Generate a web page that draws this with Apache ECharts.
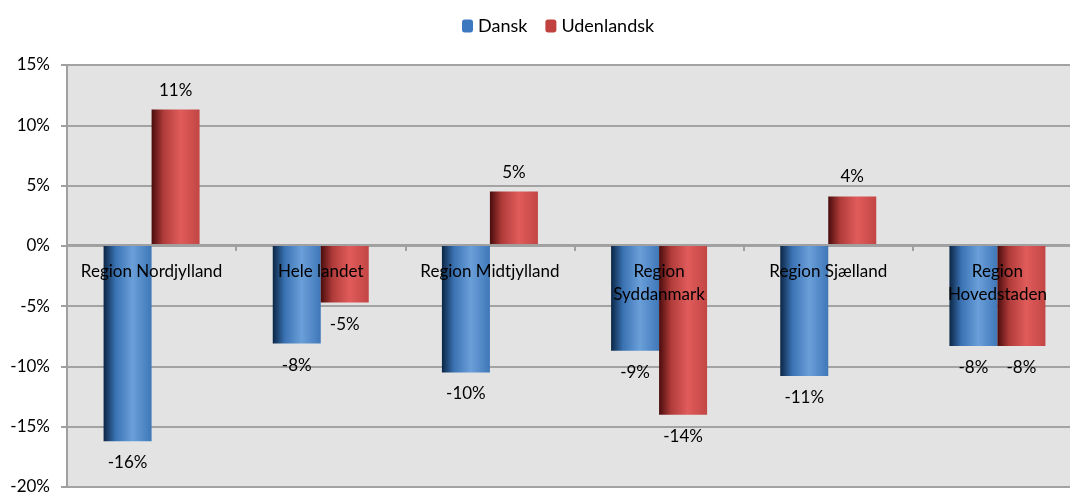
<!DOCTYPE html>
<html>
<head>
<meta charset="utf-8">
<script src="https://cdn.jsdelivr.net/npm/echarts@6/dist/echarts.min.js"></script>
<style>
  html, body { margin: 0; padding: 0; background: #fff; }
  #chart { width: 1070px; height: 492px; }
</style>
</head>
<body>
<div id="chart"></div>
<script>
// regioner og ændring i procent
var regions = ['Region Nordjylland', 'Hele landet', 'Region Midtjylland', 'Region\nSyddanmark', 'Region Sjælland', 'Region\nHovedstaden'];
var dansk = [-16.2, -8.1, -10.5, -8.7, -10.8, -8.3];
var udenlandsk = [11.3, -4.7, 4.5, -14.0, 4.1, -8.3];
var yTicks = { min: -20, max: 15, step: 5 };

var font = 'Lato';
var fs = 17;

function barGrad(c0, c1, c2, c3) {
  return new echarts.graphic.LinearGradient(0, 0, 1, 0, [
    { offset: 0, color: c0 },
    { offset: 0.25, color: c1 },
    { offset: 0.6, color: c2 },
    { offset: 1, color: c3 }
  ]);
}

var myChart = echarts.init(document.getElementById('chart'));
var option = {
  animation: false,
  textStyle: { fontFamily: font },
  legend: {
    top: 12,
    left: 457,
    itemWidth: 11,
    itemHeight: 13,
    itemGap: 18,
    textStyle: { fontSize: 18, color: '#000', fontFamily: font },
    data: [
      { name: 'Dansk', itemStyle: { color: '#3b78c0' } },
      { name: 'Udenlandsk', itemStyle: { color: '#c0413e' } }
    ]
  },
  grid: {
    left: 67, right: -12, top: 65, bottom: 5,
    outerBoundsMode: 'none',
    containLabel: false,
    show: true, backgroundColor: '#e3e3e3', borderWidth: 0
  },
  xAxis: {
    type: 'category',
    data: regions,
    z: 10,
    position: 'bottom',
    offset: -242, // aksen ligger ved 0%
    axisLine: { onZero: false, lineStyle: { color: '#a0a0a0', width: 2 } },
    axisTick: { show: true, length: 6, lineStyle: { color: '#a0a0a0', width: 2 } },
    axisLabel: { interval: 0, color: '#000', fontSize: fs, margin: 15, lineHeight: 23, fontFamily: font }
  },
  yAxis: {
    type: 'value',
    min: yTicks.min, max: yTicks.max, interval: yTicks.step,
    axisLine: { show: true, lineStyle: { color: '#a0a0a0', width: 2 } },
    axisTick: { show: true, length: 6, lineStyle: { color: '#a0a0a0', width: 2 } },
    axisLabel: { color: '#000', fontSize: fs, margin: 17, formatter: '{value}%', fontFamily: font },
    splitLine: { lineStyle: { color: '#a3a3a3', width: 2 } }
  },
  series: [
    {
      name: 'Dansk',
      type: 'bar',
      barWidth: 48,
      barGap: '0%',
      data: dansk,
      itemStyle: { color: barGrad('#0b2645', '#3a72b3', '#6a9fd9', '#3f77b8') },
      label: {
        show: true, position: 'bottom', distance: 13,
        color: '#000', fontSize: fs, fontFamily: font,
        formatter: function (p) { return Math.round(p.value) + '%'; }
      }
    },
    {
      name: 'Udenlandsk',
      type: 'bar',
      barWidth: 48,
      data: udenlandsk,
      itemStyle: { color: barGrad('#4a0c0c', '#b03c3a', '#e05c5b', '#c24644') },
      label: {
        show: true, distance: 11,
        color: '#000', fontSize: fs, fontFamily: font,
        position: 'top',
        formatter: function (p) { return Math.round(p.value) + '%'; }
      }
    }
  ]
};
// negative værdier: etiket under søjlen
option.series[1].data = udenlandsk.map(function (v) {
  return v < 0 ? { value: v, label: { position: 'bottom', distance: 13 } } : v;
});
myChart.setOption(option);
window.addEventListener('resize', function () { myChart.resize(); });
</script>
</body>
</html>
